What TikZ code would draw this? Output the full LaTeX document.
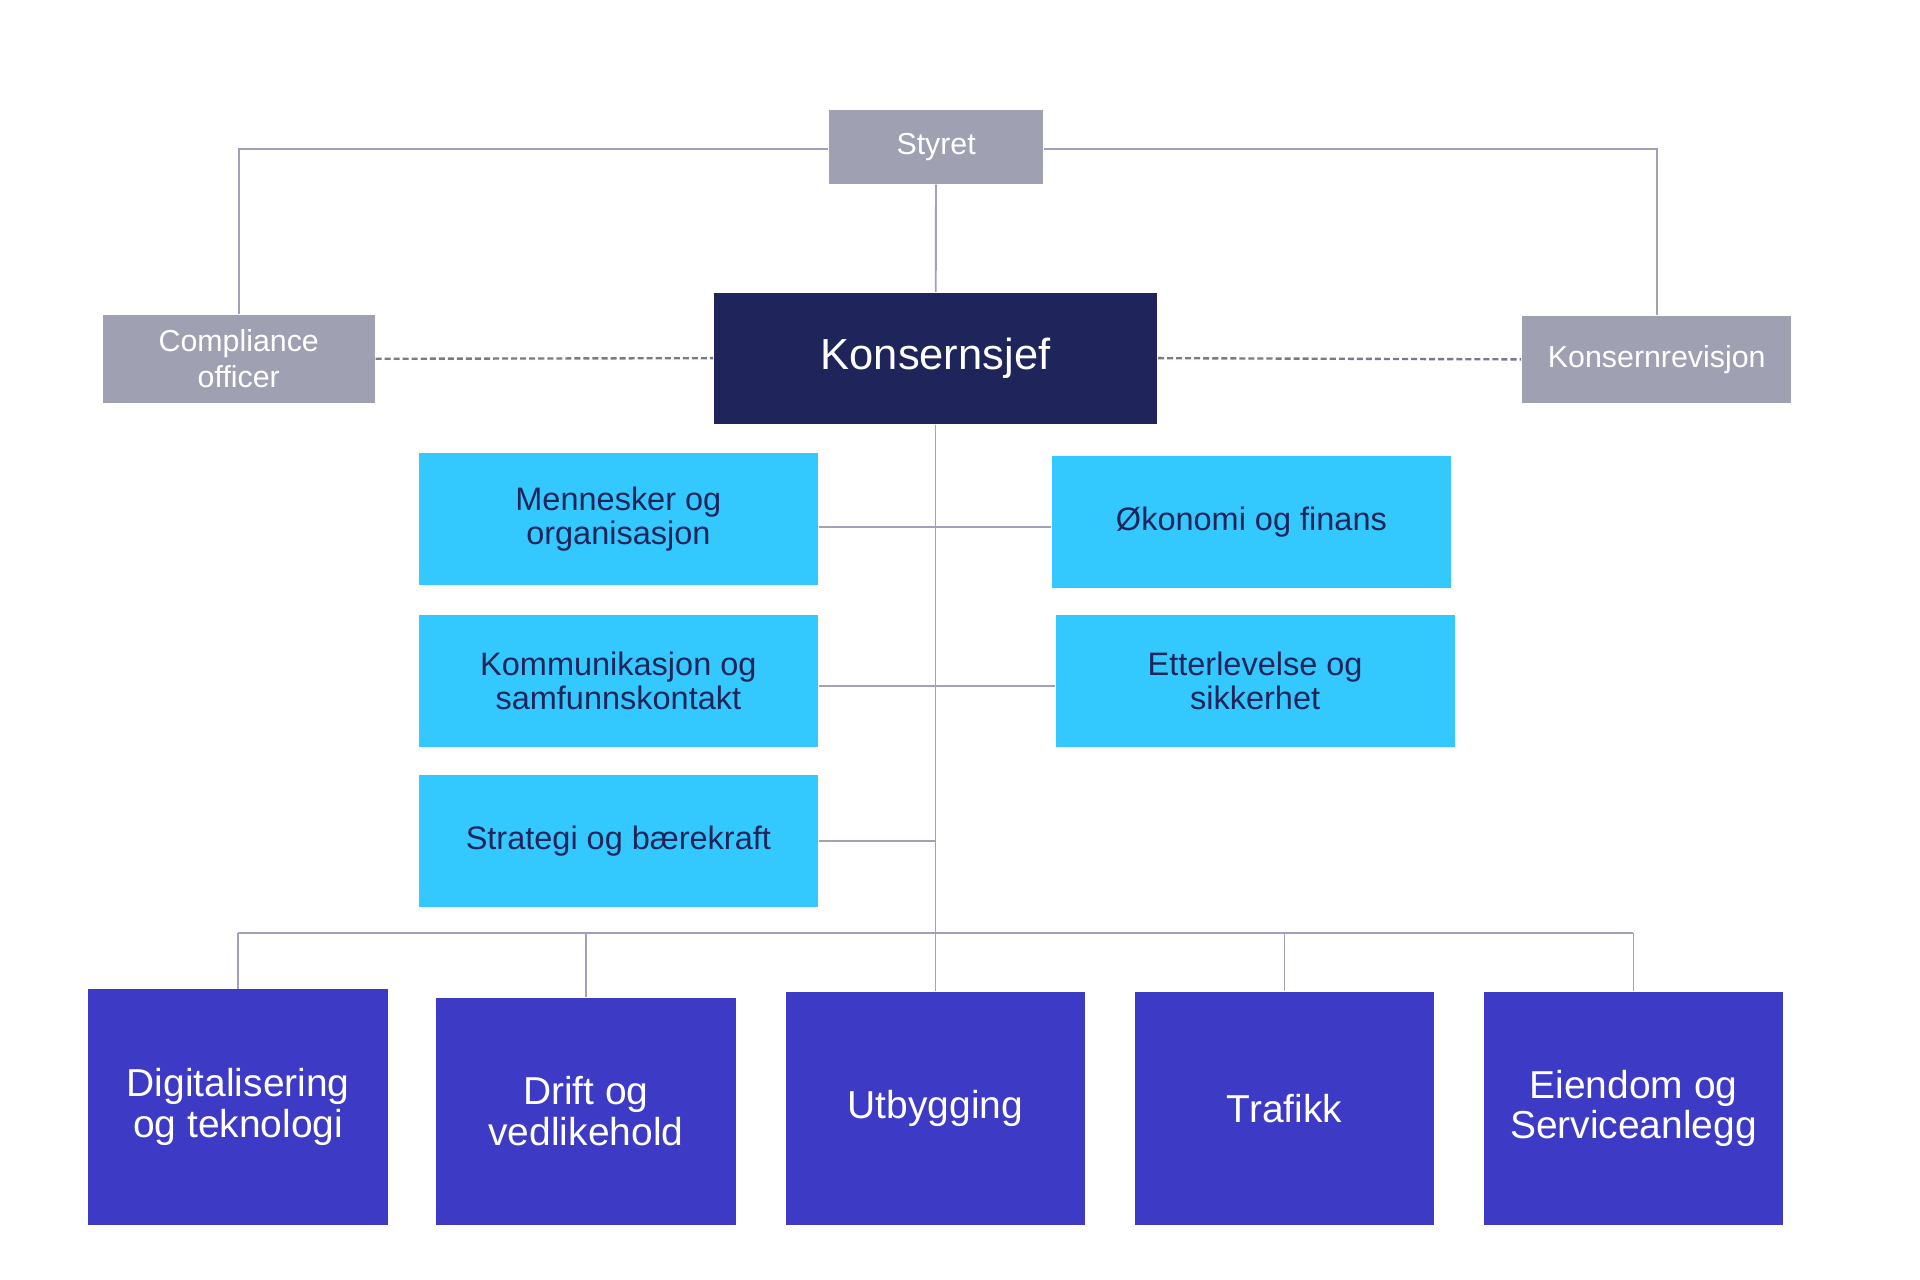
\documentclass[tikz,border=0pt]{standalone}
\usepackage{fontspec}
\setmainfont{Liberation Sans}

\definecolor{boxgray}{HTML}{9FA1B3}
\definecolor{ceonavy}{HTML}{1F255A}
\definecolor{staffcyan}{HTML}{33C9FF}
\definecolor{unitblue}{HTML}{3D3BC5}
\definecolor{linegray}{HTML}{A3A1BA}

\begin{document}
\begin{tikzpicture}[
        gray box/.style={rectangle, fill=boxgray, text=white, align=center,
                inner sep=0pt, font=\fontsize{7.05}{8.2}\selectfont},
        staff box/.style={rectangle, fill=staffcyan, text=ceonavy, align=center,
                inner sep=0pt, minimum width=3.26cm, minimum height=1.08cm,
                font=\fontsize{7.55}{8.0}\selectfont},
        unit box/.style={rectangle, fill=unitblue, text=white, align=center,
                inner sep=0pt, minimum width=2.44cm, minimum height=1.90cm,
                font=\fontsize{9.05}{9.4}\selectfont},
        link/.style={draw=linegray, line width=0.45pt},
        dotted link/.style={draw=linegray!75!black, line width=0.55pt,
                dash pattern=on 1.4pt off 0.7pt}
    ]

        \useasboundingbox (0,0) rectangle (15.68,-10.45);

        %-- Styret og stabsfunksjoner (grå) --
        \node[gray box, minimum width=1.75cm, minimum height=0.60cm]
        (styret) at (7.645,-1.20) {Styret};
        \node[gray box, minimum width=2.22cm, minimum height=0.72cm]
        (comp) at (1.95,-2.93) {Compliance\\officer};
        \node[gray box, minimum width=2.20cm, minimum height=0.71cm]
        (rev) at (13.53,-2.935) {Konsernrevisjon};

        %-- Konsernsjef (mørk blå) --
        \node[rectangle, fill=ceonavy, text=white, inner sep=0pt,
            minimum width=3.62cm, minimum height=1.07cm,
            font=\fontsize{10.1}{12}\selectfont]
        (ceo) at (7.64,-2.925) {Konsernsjef};

        %-- Konsernstaber (cyan) --
        \node[staff box] (men)   at (5.05,-4.24)   {Mennesker og\\organisasjon};
        \node[staff box] (kom)   at (5.05,-5.56)   {Kommunikasjon og\\samfunnskontakt};
        \node[staff box] (strat) at (5.05,-6.865)  {Strategi og bærekraft};
        \node[staff box] (oko)   at (10.22,-4.265) {Økonomi og finans};
        \node[staff box] (ett)   at (10.25,-5.56)  {Etterlevelse og\\sikkerhet};

        %-- Divisjoner (blå) --
        \node[unit box, minimum width=2.45cm, minimum height=1.92cm]
        (dig) at (1.945,-9.04) {Digitalisering\\og teknologi};
        \node[unit box, minimum width=2.45cm, minimum height=1.85cm]
        (drift) at (4.785,-9.075) {Drift og\\vedlikehold};
        \node[unit box] (utb)  at (7.64,-9.05)  {Utbygging};
        \node[unit box] (traf) at (10.49,-9.05) {Trafikk};
        \node[unit box] (eie)  at (13.34,-9.05) {Eiendom og\\Serviceanlegg};

        %-- Linjer fra styret --
        \draw[link] ([yshift=-0.02cm]styret.west) -| (comp.north);
        \draw[link] ([yshift=-0.02cm]styret.east) -| (rev.north);
        \draw[link] (styret) -- (ceo);

        %-- Stiplede linjer (rapportering) --
        \draw[dotted link] (comp.east) -- (ceo.west);
        \draw[dotted link] (ceo.east) -- (rev.west);

        %-- Stamme og staber --
        \draw[link] (ceo.south) -- (utb.north);
        \draw[link] ([yshift=-0.06cm]men.east) -- ([yshift=-0.06cm]men.east -| oko.west);
        \draw[link] ([yshift=-0.04cm]kom.east) -- ([yshift=-0.04cm]kom.east -| ett.west);
        \draw[link] (strat.east) -- (strat.east -| ceo.south);

        %-- Samleskinne til divisjonene --
        \coordinate (bus) at (7.64,-7.62);
        \draw[link] (dig.north |- bus) -- (eie.north |- bus);
        \foreach \u in {dig, drift, traf, eie} {
                \draw[link] (\u.north) -- (\u.north |- bus);
            }

    \end{tikzpicture}
\end{document}
